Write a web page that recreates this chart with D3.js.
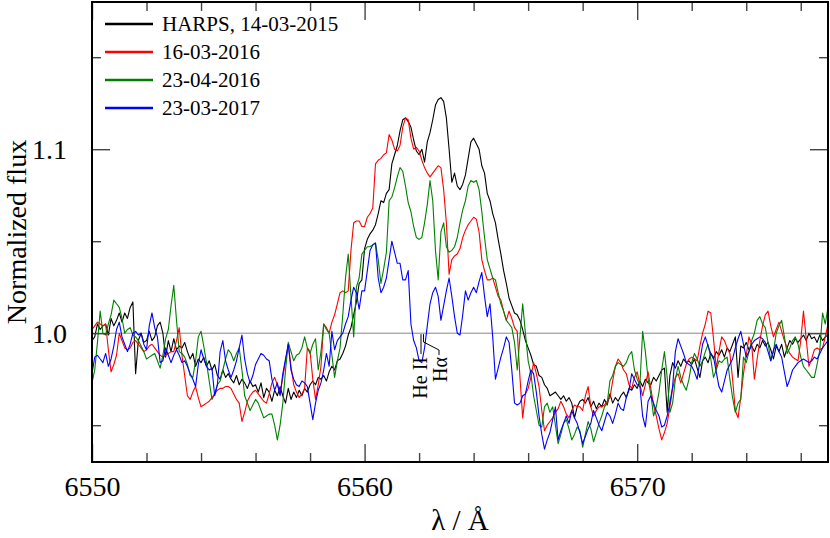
<!DOCTYPE html>
<html><head><meta charset="utf-8">
<script src="https://cdn.jsdelivr.net/npm/d3@7/dist/d3.min.js"></script>
<style>body{margin:0;background:#fff}svg{display:block}text{font-family:"Liberation Serif","Times New Roman",serif;fill:#000}</style>
</head><body><svg id="c" width="830" height="538" font-family="Liberation Serif, Times New Roman, serif"></svg>
<script>
// wavelength grid: 6550.0 ... 6577.0 in 0.1 Å steps
const lambdaStart = 6550.0;
const lambdaStep = 0.1;

const seriesNames = ["HARPS, 14-03-2015", "16-03-2016", "23-04-2016", "23-03-2017"];

const flux20150314 = [
0.996,0.998,1.005,1.002,1.004,1.005,0.999,1.008,1.004,1.007,
1.011,1.006,1.011,1.008,1.014,1.017,0.978,0.996,1.000,0.995,
0.996,1.001,0.996,0.998,1.004,1.006,1.000,0.987,0.996,0.990,
0.997,0.991,0.993,0.992,0.995,0.990,0.986,0.989,0.982,0.986,
0.984,0.987,0.982,0.985,0.980,0.983,0.977,0.975,0.980,0.976,
0.978,0.975,0.973,0.977,0.972,0.975,0.973,0.970,0.974,0.971,
0.972,0.968,0.973,0.965,0.970,0.968,0.963,0.969,0.966,0.971,
0.966,0.962,0.970,0.964,0.968,0.965,0.969,0.966,0.970,0.968,
0.972,0.974,0.972,0.976,0.975,0.977,0.974,0.979,0.982,0.980,
0.985,0.986,0.989,0.993,0.999,1.003,1.010,1.017,1.027,1.029,
1.046,1.051,1.054,1.056,1.059,1.065,1.072,1.071,1.076,1.078,
1.092,1.097,1.102,1.110,1.116,1.117,1.115,1.112,1.105,1.099,
1.097,1.100,1.093,1.104,1.109,1.116,1.124,1.127,1.128,1.126,
1.117,1.100,1.082,1.087,1.080,1.078,1.081,1.086,1.095,1.104,
1.106,1.103,1.100,1.091,1.087,1.076,1.072,1.065,1.060,1.051,
1.043,1.034,1.027,1.019,1.015,1.011,1.010,1.007,1.002,0.996,
0.992,0.988,0.983,0.982,0.977,0.976,0.972,0.970,0.966,0.967,
0.968,0.966,0.964,0.966,0.963,0.965,0.962,0.954,0.960,0.963,
0.964,0.962,0.965,0.960,0.963,0.959,0.962,0.960,0.964,0.961,
0.967,0.962,0.965,0.963,0.966,0.968,0.965,0.970,0.969,0.972,
0.970,0.974,0.971,0.975,0.973,0.972,0.976,0.974,0.977,0.980,
0.981,0.957,0.977,0.984,0.981,0.985,0.982,0.986,0.984,0.985,
0.983,0.986,0.981,0.976,0.985,0.987,0.984,0.989,0.986,0.990,
0.988,0.991,0.987,0.992,0.990,0.994,0.998,0.976,0.993,0.992,
0.995,0.991,0.993,0.990,0.994,0.992,0.996,0.993,0.995,0.991,
0.986,0.993,0.990,0.994,0.987,0.992,0.996,0.994,0.997,0.995,
0.997,0.999,0.996,1.000,0.997,0.998,0.995,0.999,0.996,0.998,
0.999];

const flux20160316 = [
1.002,1.004,1.006,1.005,1.004,1.005,0.991,0.979,0.983,0.988,
1.000,0.996,0.992,0.991,0.992,0.995,0.996,0.994,0.992,0.990,
0.991,0.993,0.994,0.992,0.990,0.988,0.987,0.988,0.989,0.990,
0.990,0.996,1.003,0.988,0.977,0.966,0.964,0.968,0.971,0.965,
0.960,0.961,0.962,0.963,0.965,0.967,0.969,0.970,0.970,0.971,
0.971,0.970,0.967,0.964,0.962,0.952,0.957,0.963,0.966,0.968,
0.969,0.967,0.965,0.963,0.962,0.967,0.973,0.976,0.972,0.967,
0.976,0.985,0.994,0.982,0.972,0.968,0.965,0.967,0.970,0.992,
0.990,0.975,0.964,0.972,0.982,1.005,1.003,1.000,1.006,1.010,
1.016,1.022,1.023,1.022,1.023,1.045,1.060,1.061,1.061,1.058,
1.058,1.063,1.065,1.068,1.092,1.094,1.095,1.097,1.098,1.108,
1.105,1.100,1.099,1.102,1.112,1.117,1.116,1.106,1.100,1.101,
1.099,1.094,1.090,1.087,1.085,1.087,1.089,1.091,1.090,1.078,
1.060,1.032,1.040,1.042,1.043,1.046,1.052,1.056,1.059,1.061,
1.063,1.062,1.055,1.040,1.034,1.029,1.029,1.030,1.025,1.020,
1.018,1.012,1.007,1.012,1.008,1.003,1.001,0.976,0.954,0.967,
0.970,0.976,0.984,0.978,0.971,0.958,0.947,0.950,0.952,0.954,
0.957,0.959,0.963,0.960,0.956,0.954,0.958,0.961,0.960,0.960,
0.958,0.966,0.971,0.960,0.955,0.958,0.960,0.960,0.961,0.963,
0.965,0.974,0.982,0.986,0.984,0.980,0.978,0.972,0.970,0.976,
0.979,0.972,0.966,0.972,0.979,0.970,0.961,0.955,0.948,0.942,
0.946,0.951,0.960,0.970,0.976,0.978,0.973,0.978,0.983,0.986,
0.987,0.986,0.985,0.993,1.000,1.005,1.012,1.011,0.997,0.981,
0.990,0.998,0.996,0.992,0.989,0.975,0.958,0.954,0.965,0.978,
0.988,0.998,0.994,0.975,0.986,0.996,1.004,1.010,1.012,1.004,
0.998,1.002,1.006,1.001,0.996,0.992,0.989,0.987,0.986,0.985,
0.996,1.012,0.997,0.982,0.986,0.991,0.992,0.991,0.992,0.998,
1.005];

const flux20160423 = [
0.973,0.980,0.995,1.012,1.000,0.999,1.005,1.010,1.018,1.016,
1.014,1.008,1.000,1.002,1.003,0.999,0.998,0.996,0.993,0.990,
0.986,0.987,0.988,0.989,0.985,0.981,0.988,0.997,1.002,1.015,
1.026,1.007,0.990,0.989,0.987,0.983,0.977,0.976,0.985,0.998,
1.001,0.993,0.984,0.974,0.964,0.967,0.972,0.974,0.980,0.986,
0.991,0.989,0.985,0.989,0.992,0.980,0.966,0.962,0.958,0.961,
0.964,0.962,0.958,0.954,0.955,0.956,0.956,0.950,0.942,0.950,
0.962,0.980,0.995,0.990,0.985,0.988,0.989,0.992,0.998,0.992,
0.989,0.994,0.997,0.980,0.990,1.005,1.002,1.000,0.988,0.976,
0.985,0.992,1.010,1.030,1.043,1.020,0.998,1.025,1.030,1.043,
1.045,1.047,1.047,1.048,1.049,1.040,1.027,1.035,1.044,1.072,
1.074,1.079,1.085,1.090,1.088,1.080,1.071,1.066,1.058,1.052,
1.051,1.052,1.060,1.070,1.083,1.072,1.045,1.029,1.055,1.060,
1.047,1.044,1.045,1.047,1.052,1.060,1.067,1.072,1.080,1.083,
1.082,1.083,1.078,1.066,1.052,1.040,1.035,1.030,1.029,1.022,
1.016,1.012,1.007,1.005,1.003,0.995,0.980,0.998,1.016,1.000,
0.985,0.978,0.966,0.958,0.950,0.949,0.960,0.962,0.957,0.960,
0.950,0.940,0.945,0.951,0.953,0.948,0.942,0.945,0.949,0.947,
0.938,0.945,0.952,0.948,0.941,0.946,0.951,0.955,0.960,0.962,
0.974,0.977,0.982,0.984,0.983,0.982,0.984,0.988,0.990,0.980,
0.975,0.972,1.001,0.990,0.975,0.967,0.955,0.960,0.968,0.980,
0.990,0.976,0.957,0.962,0.975,0.982,0.976,0.972,0.969,0.975,
0.984,0.989,0.986,0.982,0.985,0.990,0.994,0.986,0.976,0.980,
0.985,0.984,0.986,0.987,0.975,0.965,0.957,0.962,0.964,0.987,
0.984,0.990,0.996,1.000,1.007,1.009,1.005,1.003,0.995,0.985,
0.990,1.000,1.004,1.007,0.998,0.989,0.992,0.996,0.998,0.994,
0.987,0.982,0.980,0.978,0.976,0.976,0.983,0.991,1.011,1.005,
1.014];

const flux20170323 = [
0.978,0.987,0.988,0.986,0.984,0.989,0.982,0.986,0.993,1.002,
1.006,0.998,0.994,0.990,0.994,1.000,1.001,0.999,1.000,0.994,
0.991,1.004,1.011,1.003,0.998,0.984,0.985,0.992,0.988,0.984,
0.988,0.991,0.988,0.984,0.985,0.982,0.978,0.975,0.971,0.983,
0.991,0.986,0.982,0.980,0.981,0.966,0.972,0.990,0.996,0.985,
0.980,0.976,0.980,0.985,0.992,0.999,0.986,0.978,0.973,0.977,
0.983,0.986,0.989,0.988,0.986,0.985,0.975,0.969,0.973,0.966,
0.978,0.986,0.994,0.980,0.975,0.972,0.971,0.974,0.973,0.971,
0.962,0.953,0.962,0.969,0.973,0.980,0.989,0.982,1.001,0.991,
0.996,0.998,1.000,1.005,1.009,1.018,1.025,1.022,1.013,1.023,
1.023,1.034,1.045,1.048,1.049,1.030,1.022,1.025,1.030,1.040,
1.050,1.044,1.038,1.038,1.029,1.029,1.034,1.005,0.996,0.992,
0.985,0.984,0.992,1.004,1.016,1.022,1.025,1.020,1.007,1.015,
1.023,1.030,1.020,1.009,1.000,0.999,1.010,1.023,1.018,1.022,
1.025,1.022,1.028,1.033,1.020,1.009,1.016,0.998,0.975,0.981,
0.987,0.992,0.998,0.995,0.980,0.962,0.961,0.962,0.966,0.967,
0.974,0.980,0.978,0.968,0.955,0.945,0.937,0.942,0.946,0.953,
0.960,0.942,0.947,0.951,0.955,0.951,0.958,0.954,0.951,0.946,
0.940,0.944,0.948,0.951,0.958,0.954,0.950,0.947,0.952,0.957,
0.955,0.951,0.956,0.962,0.959,0.958,0.965,0.969,0.978,0.975,
0.972,0.971,0.955,0.949,0.963,0.966,0.962,0.958,0.955,0.949,
0.950,0.955,0.962,0.971,0.990,0.997,0.993,0.989,0.984,0.983,
0.982,0.979,0.975,0.985,0.994,0.998,0.993,0.989,0.987,0.979,
0.971,0.968,0.974,0.980,0.983,0.986,0.992,0.997,1.001,0.994,
0.987,0.990,0.994,0.996,0.997,0.998,0.997,0.995,0.990,0.985,
0.991,0.994,0.990,0.987,0.979,0.971,0.975,0.980,0.982,0.984,
0.985,0.986,0.985,0.984,0.985,0.987,0.986,0.989,0.992,0.994,
0.996];

const xMajorTicks = [6550, 6560, 6570];
const xMinorTicks = [6552, 6554, 6556, 6558, 6562, 6564, 6566, 6568, 6572, 6574, 6576];
const yMajorTicks = [1.0, 1.1];
const yMinorTicks = [0.95, 1.05, 1.15];
const lineIds = ["He II", "Hα"];

const allFlux = [flux20150314, flux20160316, flux20160423, flux20170323];
const colors = ["#000000", "#ff0000", "#008000", "#0000ff"];
const FONT = '"Liberation Serif","Times New Roman",Times,serif';

const L = 92, R = 828, T = 2, B = 462;
const x = d3.scaleLinear().domain([6550, 6577]).range([L, R]);
const y = d3.scaleLinear().domain([0.93, 1.18]).range([B, T]);

const svg = d3.select("#c");
svg.append("defs").append("clipPath").attr("id", "clip")
  .append("rect").attr("x", L).attr("y", T).attr("width", R - L).attr("height", B - T);

// reference line at 1.0
svg.append("line").attr("x1", L).attr("x2", R).attr("y1", y(1.0)).attr("y2", y(1.0))
  .attr("stroke", "#888").attr("stroke-width", 1);

// spectra
const line = d3.line().x(d => x(d[0])).y(d => y(d[1]));
const g = svg.append("g").attr("clip-path", "url(#clip)");
allFlux.forEach((arr, k) => {
  const pts = arr.map((v, i) => [lambdaStart + i * lambdaStep, v]);
  g.append("path").datum(pts).attr("d", line).attr("fill", "none")
    .attr("stroke", colors[k]).attr("stroke-width", 1.1).attr("stroke-linejoin", "round");
});

// axes (ticks inward)
const fmtX = d3.format("d"), fmtY = d3.format(".1f");
function styleAxis(sel, fs) {
  sel.attr("font-family", FONT);
  sel.select(".domain").remove();
  sel.selectAll(".tick line").attr("stroke", "#444").attr("stroke-width", 1.4);
  sel.selectAll("text").style("font-family", FONT)
    .style("font-size", fs + "px").attr("fill", "#000");
}
svg.append("g").attr("transform", `translate(0,${B})`)
  .call(d3.axisBottom(x).tickValues(xMajorTicks).tickSize(-18).tickPadding(14).tickFormat(fmtX))
  .call(s => styleAxis(s, 28));
svg.append("g").attr("transform", `translate(0,${B})`)
  .call(d3.axisBottom(x).tickValues(xMinorTicks).tickSize(-9).tickFormat(""))
  .call(s => styleAxis(s, 28));
svg.append("g").attr("transform", `translate(0,${T})`)
  .call(d3.axisTop(x).tickValues(xMajorTicks).tickSize(-18).tickFormat(""))
  .call(s => styleAxis(s, 28));
svg.append("g").attr("transform", `translate(0,${T})`)
  .call(d3.axisTop(x).tickValues(xMinorTicks).tickSize(-9).tickFormat(""))
  .call(s => styleAxis(s, 28));
svg.append("g").attr("transform", `translate(${L},0)`)
  .call(d3.axisLeft(y).tickValues(yMajorTicks).tickSize(-18).tickPadding(25).tickFormat(fmtY))
  .call(s => styleAxis(s, 28));
svg.append("g").attr("transform", `translate(${L},0)`)
  .call(d3.axisLeft(y).tickValues(yMinorTicks).tickSize(-9).tickFormat(""))
  .call(s => styleAxis(s, 28));
svg.append("g").attr("transform", `translate(${R},0)`)
  .call(d3.axisRight(y).tickValues(yMajorTicks).tickSize(-18).tickFormat(""))
  .call(s => styleAxis(s, 28));
svg.append("g").attr("transform", `translate(${R},0)`)
  .call(d3.axisRight(y).tickValues(yMinorTicks).tickSize(-9).tickFormat(""))
  .call(s => styleAxis(s, 28));

// frame
svg.append("rect").attr("x", L).attr("y", T).attr("width", R - L).attr("height", B - T)
  .attr("fill", "none").attr("stroke", "#000").attr("stroke-width", 2);

// axis titles
svg.append("text").attr("x", (L + R) / 2).attr("y", 530).attr("text-anchor", "middle")
  .style("font-family", FONT).style("font-size", "29px").text("λ / Å");
svg.append("text").attr("transform", `translate(26,${(T + B) / 2}) rotate(-90)`)
  .attr("text-anchor", "middle").style("font-family", FONT).style("font-size", "28px")
  .text("Normalized flux");

// legend
const leg = svg.append("g");
seriesNames.forEach((n, k) => {
  const ly = 24 + k * 28;
  leg.append("line").attr("x1", 105).attr("x2", 153).attr("y1", ly).attr("y2", ly)
    .attr("stroke", colors[k]).attr("stroke-width", 2.5);
  leg.append("text").attr("x", 162).attr("y", ly + 7)
    .style("font-family", FONT).style("font-size", "21px").text(n);
});

// line identifications
const ann = svg.append("g").attr("stroke", "#000").attr("fill", "none").attr("stroke-width", 1);
ann.append("path").attr("d", `M421,${y(1.0) + 1} V354`);
ann.append("path").attr("d", `M423.5,${y(1.0) + 1} V342 L439,350 V355`);
svg.append("text").attr("transform", "translate(427,357) rotate(-90)").attr("text-anchor", "end")
  .style("font-family", FONT).style("font-size", "20px").text(lineIds[0]);
svg.append("text").attr("transform", "translate(447,357) rotate(-90)").attr("text-anchor", "end")
  .style("font-family", FONT).style("font-size", "20px").text(lineIds[1]);
</script></body></html>
